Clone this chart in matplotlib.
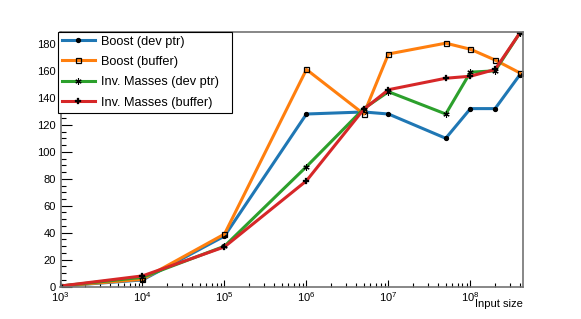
import math
import matplotlib
matplotlib.use("Agg")
import matplotlib.pyplot as plt
from matplotlib.ticker import FixedLocator, FuncFormatter, MultipleLocator

# input sizes
sizes = [1e3, 1e4, 1e5, 1e6, 5e6, 1e7, 5e7, 1e8, 2e8, 4e8]

boost_devptr = [0.5, 5, 37.5, 128, 129.5, 128, 110, 132, 132, 157]
boost_buffer = [0.5, 5.5, 39, 161, 128, 172.5, 180.5, 176, 168, 158.5]
inv_devptr = [0.5, 7, 30, 89, 132, 144.5, 128, 159, 160, 188]
inv_buffer = [0.5, 8, 29.5, 78.5, 131.5, 146, 154.5, 156, 161, 188]

labels = ["Boost (dev ptr)", "Boost (buffer)",
          "Inv. Masses (dev ptr)", "Inv. Masses (buffer)"]
colors = ["#1f77b4", "#ff7f0e", "#2ca02c", "#d62728"]

tick_font = ["Liberation Sans Narrow", "Liberation Sans"]

fig = plt.figure(figsize=(5.81, 3.19), dpi=100)
ax = fig.add_axes([60.5 / 581, 32.3 / 319, 462.2 / 581, 255 / 319])

ax.plot(sizes, boost_devptr, color=colors[0], lw=2.2, marker="o", ms=2.8,
        mfc="black", mec="black", label=labels[0])
ax.plot(sizes, boost_buffer, color=colors[1], lw=2.2, marker="s", ms=3.6,
        mfc="none", mec="black", mew=0.9, label=labels[1])
ax.plot(sizes, inv_devptr, color=colors[2], lw=2.2, marker=(6, 2, 0), ms=4.5,
        mec="black", mew=0.8, label=labels[2])
ax.plot(sizes, inv_buffer, color=colors[3], lw=2.2, marker="P", ms=3.8,
        mfc="black", mec="black", mew=0.2, label=labels[3])

ax.set_xscale("log")
ax.set_xlim(1e3, 4.34e8)
ax.set_ylim(0, 189)

ax.xaxis.set_major_locator(FixedLocator([1e3, 1e4, 1e5, 1e6, 1e7, 1e8]))
minors = [m * 10 ** e for e in range(3, 9) for m in range(2, 10)]
ax.xaxis.set_minor_locator(FixedLocator(minors))
ax.xaxis.set_major_formatter(
    FuncFormatter(lambda v, p: r"$\mathregular{10^{%d}}$" % round(math.log10(v))))
ax.xaxis.set_minor_formatter(FuncFormatter(lambda v, p: ""))
ax.yaxis.set_major_locator(MultipleLocator(20))
ax.yaxis.set_minor_locator(MultipleLocator(5))

for s in ax.spines.values():
    s.set_color("0.45")
    s.set_linewidth(1.2)

ax.tick_params(axis="both", which="both", direction="in", color="black",
               width=0.8)
ax.tick_params(axis="y", which="major", length=8, pad=3.2)
ax.tick_params(axis="y", which="minor", length=3.6)
ax.tick_params(axis="x", which="major", length=5, pad=2.2)
ax.tick_params(axis="x", which="minor", length=3)
for t in ax.get_xticklabels() + ax.get_yticklabels():
    t.set_family(tick_font)
    t.set_fontsize(8)

ax.text(1.0, -0.048, "Input size", transform=ax.transAxes, ha="right",
        va="top", family=tick_font, fontsize=8)

leg = ax.legend(loc="upper left",
                bbox_to_anchor=(57.7 / 581, 1 - 31.7 / 319, 174.6 / 581, 0),
                bbox_transform=fig.transFigure, mode="expand",
                borderaxespad=0, borderpad=0.3, labelspacing=0.66,
                handlelength=2.6, handletextpad=0.5, fancybox=False,
                framealpha=1, edgecolor="black",
                prop={"family": "Liberation Sans", "size": 9.2})
leg.get_frame().set_linewidth(0.8)

fig.savefig("out.png", dpi=100)
